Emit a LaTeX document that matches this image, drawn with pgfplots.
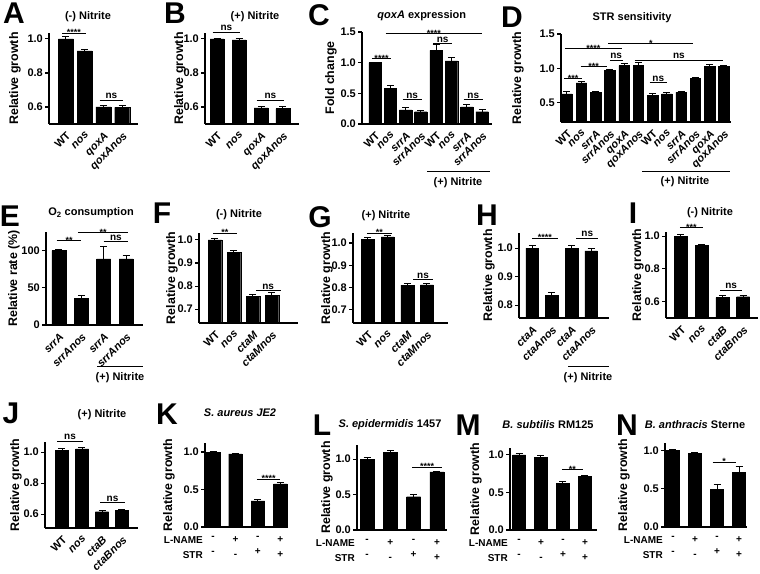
\documentclass[border=0pt]{standalone}
\usepackage{pgfplots}
\pgfplotsset{compat=1.18}
\usepackage{fontspec}
\setmainfont{Liberation Sans}
\pgfplotsset{
  /pgf/number format/assume math mode=true,
  panel/.style={
    scale only axis, anchor=south west, clip=false,
    axis x line*=bottom, axis y line*=left,
    axis line style={line width=1.3pt},
    ybar,
    xtick=data, xtick style={draw=none},
    ytick style={line width=1.1pt, black}, tick align=outside, major tick length=4pt,
    yticklabel style={font=\bfseries\fontsize{11}{11}\selectfont, /pgf/number format/fixed, /pgf/number format/fixed zerofill, /pgf/number format/precision=1, inner sep=2pt},
    xticklabel style={rotate=45, anchor=north east, font=\bfseries\itshape\fontsize{11}{11}\selectfont, inner sep=2.2pt},
    every axis y label/.style={rotate=90, anchor=center, font=\bfseries\fontsize{12.4}{13}\selectfont},
    every axis title/.style={anchor=center, font=\bfseries\fontsize{11}{12}\selectfont},
    ylabel={Relative growth},
  },
  ylab/.style={ylabel style={at={(axis description cs:#1,0.5)}}},
  tit/.style 2 args={title style={at={(axis description cs:#1,#2)}}},
  twoRow/.style={every x tick label/.style={anchor=north, align=center, font=\bfseries\fontsize{10}{15}\selectfont, inner sep=2pt, yshift=-3pt}, xticklabels={{-\\-},{+\\-},{-\\+},{+\\+}}},
  bars/.style={fill=black, draw=black, bar width=#1, error bars/.cd, y dir=plus, y explicit, error bar style={line width=1pt, black}, error mark options={rotate=90, mark size=3.5pt, line width=1pt, black}},
}
\newcommand{\sig}[4]{\draw[line width=0.9pt] (axis cs:#1,#3) -- (axis cs:#2,#3) node[midway,above,inner sep=0.8pt,font=\bfseries\fontsize{10}{10}\selectfont]{#4};}
\newcommand{\sigs}[4]{\draw[line width=0.9pt] (axis cs:#1,#3) -- (axis cs:#2,#3) node[midway,above,inner sep=0pt,yshift=-3.2pt,font=\bfseries\fontsize{9}{9}\selectfont]{#4};}
\newcommand{\plet}[3]{\node[font=\bfseries\fontsize{30}{30}\selectfont, inner sep=0pt] at (#1pt,#2pt) {#3};}
\newcommand{\rowlab}{\node[anchor=north east, align=right, font=\bfseries\fontsize{10}{15}\selectfont, inner sep=2pt, yshift=-7pt] at (rel axis cs:0,0) {L-NAME\\STR};}
\newcommand{\up}[1]{\textup{#1}}
\begin{document}
\begin{tikzpicture}[x=1pt,y=1pt]
\path[use as bounding box] (0pt,0pt) rectangle (760pt,573pt);
% ---------------- A
\begin{axis}[panel, at={(49pt,449pt)}, width=89pt, height=91pt,
  xmin=-0.9, xmax=3.84, ymin=0.5, ymax=1.035, ytick={0.6,0.8,1.0},
  xticklabels={\up{WT},nos,qoxA,qoxAnos}, ylab=-0.382,
  title={(-) Nitrite}, tit={0.438}{1.176}]
\addplot[bars=15pt] coordinates {(0,1.0) +- (0,0.012) (1,0.93) +- (0,0.008) (2,0.60) +- (0,0.007) (3,0.598) +- (0,0.01)};
\sigs{-0.2}{1.05}{1.035}{****}
\sig{1.8}{3.05}{0.64}{ns}
\end{axis}
% ---------------- B
\begin{axis}[panel, at={(205pt,449pt)}, width=94pt, height=91pt,
  xmin=-0.55, xmax=3.73, ymin=0.5, ymax=1.035, ytick={0.6,0.8,1.0},
  xticklabels={\up{WT},nos,qoxA,qoxAnos}, ylab=-0.266,
  title={(+) Nitrite}, tit={0.532}{1.176}]
\addplot[bars=14pt] coordinates {(0,1.0) +- (0,0.005) (1,0.995) +- (0,0.005) (2,0.595) +- (0,0.005) (3,0.59) +- (0,0.01)};
\sig{-0.2}{1.05}{1.04}{ns}
\sig{1.8}{3.05}{0.64}{ns}
\end{axis}
% ---------------- C
\begin{axis}[panel, at={(362pt,449pt)}, width=130pt, height=92pt,
  xmin=-0.85, xmax=7.65, ymin=0, ymax=1.5, ytick={0,0.5,1.0,1.5},
  xticklabels={\up{WT},nos,srrA,srrAnos,\up{WT},nos,srrA,srrAnos},
  ylabel={Fold change}, ylab=-0.238,
  title={\textit{qoxA} expression}, tit={0.46}{1.174}]
\addplot[bars=12.5pt] coordinates {(0,1.0) +- (0,0) (1,0.58) +- (0,0.05) (2,0.23) +- (0,0.04) (3,0.2) +- (0,0.015) (4,1.2) +- (0,0.1) (5,1.03) +- (0,0.05) (6,0.28) +- (0,0.04) (7,0.2) +- (0,0.03)};
\sigs{-0.2}{1.05}{1.07}{****}
\sig{1.8}{3.05}{0.40}{ns}
\sigs{0.7}{7.0}{1.47}{****}
\sig{3.8}{5.05}{1.31}{ns}
\sig{5.8}{7.05}{0.40}{ns}
\end{axis}
% ---------------- D
\begin{axis}[panel, at={(561pt,451pt)}, width=170pt, height=88pt,
  xmin=-0.42, xmax=11.5, ymin=0.22, ymax=1.5, ytick={0.5,1.0,1.5},
  xticklabels={\up{WT},nos,srrA,srrAnos,qoxA,qoxAnos,\up{WT},nos,srrA,srrAnos,qoxA,qoxAnos},
  ylab=-0.253,
  title={STR sensitivity}, tit={0.418}{1.18}]
\addplot[bars=10.5pt] coordinates {(0,0.63) +- (0,0.04) (1,0.79) +- (0,0.02) (2,0.65) +- (0,0.01) (3,0.97) +- (0,0.015) (4,1.04) +- (0,0.03) (5,1.04) +- (0,0.04) (6,0.61) +- (0,0.03) (7,0.63) +- (0,0.025) (8,0.65) +- (0,0.01) (9,0.85) +- (0,0.015) (10,1.03) +- (0,0.02) (11,1.03) +- (0,0.015)};
\sigs{-0.2}{1.05}{0.855}{***}
\sigs{0.95}{2.8}{1.03}{***}
\sigs{-0.15}{3.85}{1.29}{****}
\sigs{2.9}{8.85}{1.36}{*}
\sig{3.0}{3.9}{1.12}{ns}
\sig{4.75}{10.95}{1.12}{ns}
\sig{5.8}{7.0}{0.79}{ns}
\end{axis}
% ---------------- E
\begin{axis}[panel, at={(46pt,248pt)}, width=97pt, height=93pt,
  xmin=-0.58, xmax=3.76, ymin=0, ymax=125, ytick={0,50,100},
  yticklabel style={/pgf/number format/precision=0},
  xticklabels={srrA,srrAnos,srrA,srrAnos},
  ylabel={Relative rate (\%)}, ylab=-0.33,
  title={O\textsubscript{2} consumption}, tit={0.464}{1.204}]
\addplot[bars=14pt] coordinates {(0,100) +- (0,1.5) (1,36) +- (0,3) (2,89) +- (0,16) (3,89) +- (0,5)};
\sigs{-0.1}{1.0}{113}{**}
\sigs{0.85}{3.1}{124.5}{**}
\sig{2.0}{3.1}{112}{ns}
\end{axis}
% ---------------- F
\begin{axis}[panel, at={(199pt,250pt)}, width=99pt, height=90pt,
  xmin=-0.84, xmax=4.37, ymin=0.64, ymax=1.03, ytick={0.7,0.8,0.9,1.0},
  xticklabels={\up{WT},nos,ctaM,ctaMnos}, ylab=-0.273,
  title={(-) Nitrite}, tit={0.404}{1.2}]
\addplot[bars=13.5pt] coordinates {(0,1.0) +- (0,0.007) (1,0.947) +- (0,0.006) (2,0.755) +- (0,0.01) (3,0.76) +- (0,0.01)};
\sigs{-0.1}{1.15}{1.03}{**}
\sig{2.15}{3.45}{0.78}{ns}
\end{axis}
% ---------------- G
\begin{axis}[panel, at={(353pt,250pt)}, width=95pt, height=90pt,
  xmin=-0.76, xmax=4.07, ymin=0.64, ymax=1.045, ytick={0.7,0.8,0.9,1.0},
  xticklabels={\up{WT},nos,ctaM,ctaMnos}, ylab=-0.274,
  title={(+) Nitrite}, tit={0.347}{1.189}]
\addplot[bars=13pt] coordinates {(0,1.017) +- (0,0.008) (1,1.027) +- (0,0.007) (2,0.81) +- (0,0.008) (3,0.812) +- (0,0.004)};
\sigs{-0.05}{1.2}{1.045}{**}
\sig{2.3}{3.3}{0.835}{ns}
\end{axis}
% ---------------- H
\begin{axis}[panel, at={(519pt,255pt)}, width=90pt, height=85pt,
  xmin=-0.66, xmax=3.9, ymin=0.755, ymax=1.053, ytick={0.8,0.9,1.0},
  xticklabels={ctaA,ctaAnos,ctaA,ctaAnos}, ylab=-0.333]
\addplot[bars=12.5pt] coordinates {(0,1.0) +- (0,0.01) (1,0.835) +- (0,0.008) (2,0.998) +- (0,0.01) (3,0.99) +- (0,0.01)};
\sigs{0}{1.3}{1.035}{****}
\sig{2.25}{3.35}{1.035}{ns}
\end{axis}
% ---------------- I
\begin{axis}[panel, at={(666pt,255pt)}, width=92pt, height=86pt,
  xmin=-0.72, xmax=3.72, ymin=0.5, ymax=1.025, ytick={0.6,0.8,1.0},
  xticklabels={\up{WT},nos,ctaB,ctaBnos}, ylab=-0.304,
  title={(-) Nitrite}, tit={0.478}{1.22}]
\addplot[bars=13pt] coordinates {(0,1.0) +- (0,0.008) (1,0.945) +- (0,0.006) (2,0.625) +- (0,0.01) (3,0.63) +- (0,0.008)};
\sigs{-0.05}{1.05}{1.05}{***}
\sig{1.9}{2.95}{0.67}{ns}
\end{axis}
% ---------------- J
\begin{axis}[panel, at={(45pt,45pt)}, width=93pt, height=86pt,
  xmin=-0.85, xmax=3.8, ymin=0.51, ymax=1.065, ytick={0.6,0.8,1.0},
  xticklabels={\up{WT},nos,ctaB,ctaBnos}, ylab=-0.312,
  title={(+) Nitrite}, tit={0.613}{1.314}]
\addplot[bars=13pt] coordinates {(0,1.01) +- (0,0.01) (1,1.02) +- (0,0.01) (2,0.615) +- (0,0.006) (3,0.622) +- (0,0.005)};
\sig{-0.25}{1.05}{1.07}{ns}
\sig{1.9}{3.15}{0.675}{ns}
\end{axis}
% ---------------- K
\begin{axis}[panel, twoRow, at={(205pt,46pt)}, width=82pt, height=84pt,
  xmin=-0.36, xmax=3.3, ymin=0, ymax=1.12, ytick={0,0.5,1.0}, ylab=-0.439,
  title={\textit{S. aureus JE2}}, tit={0.427}{1.357}]
\addplot[bars=13.5pt] coordinates {(0,1.0) +- (0,0.005) (1,0.975) +- (0,0.005) (2,0.35) +- (0,0.02) (3,0.575) +- (0,0.02)};
\sigs{1.95}{3.0}{0.64}{****}
\rowlab
\end{axis}
% ---------------- L
\begin{axis}[panel, twoRow, at={(357pt,43pt)}, width=90pt, height=85pt,
  xmin=-0.43, xmax=3.43, ymin=0, ymax=1.2, ytick={0,0.5,1.0}, ylab=-0.333,
  title={\textit{S. epidermidis} 1457}, tit={0.367}{1.235}]
\addplot[bars=14pt] coordinates {(0,1.0) +- (0,0.02) (1,1.1) +- (0,0.025) (2,0.47) +- (0,0.035) (3,0.82) +- (0,0.01)};
\sigs{1.95}{3.2}{0.89}{****}
\rowlab
\end{axis}
% ---------------- M
\begin{axis}[panel, twoRow, at={(510pt,43pt)}, width=87pt, height=82pt,
  xmin=-0.41, xmax=3.55, ymin=0, ymax=1.09, ytick={0,0.5,1.0}, ylab=-0.391,
  title={\textit{B. subtilis} RM125}, tit={0.437}{1.28}]
\addplot[bars=13pt] coordinates {(0,1.0) +- (0,0.02) (1,0.97) +- (0,0.02) (2,0.62) +- (0,0.02) (3,0.71) +- (0,0.02)};
\sigs{1.95}{2.9}{0.8}{**}
\rowlab
\end{axis}
% ---------------- N
\begin{axis}[panel, twoRow, at={(665pt,46pt)}, width=82pt, height=84pt,
  xmin=-0.36, xmax=3.36, ymin=0, ymax=1.1, ytick={0,0.5,1.0}, ylab=-0.5,
  title={\textit{B. anthracis} Sterne}, tit={0.366}{1.214}]
\addplot[bars=13pt] coordinates {(0,1.0) +- (0,0.01) (1,0.96) +- (0,0.01) (2,0.49) +- (0,0.07) (3,0.72) +- (0,0.07)};
\sigs{1.8}{2.85}{0.85}{*}
\rowlab
\end{axis}
% ---------------- letters
\plet{14}{560}{A}
\plet{175}{560}{B}
\plet{319}{558}{C}
\plet{512}{556}{D}
\plet{10}{357}{E}
\plet{162}{360}{F}
\plet{320}{356}{G}
\plet{487}{358}{H}
\plet{633}{360}{I}
\plet{11}{160}{J}
\plet{167}{159}{K}
\plet{322}{148}{L}
\plet{468}{148}{M}
\plet{627}{148}{N}
% ---------------- (+) Nitrite brackets
\begin{scope}[line width=1pt]
\draw (427pt,401pt) -- (490pt,401pt);
\draw (642pt,401pt) -- (730pt,401pt);
\draw (97pt,206pt) -- (143pt,206pt);
\draw (568pt,206pt) -- (609pt,206pt);
\end{scope}
\begin{scope}[every node/.style={font=\bfseries\fontsize{11}{12}\selectfont, inner sep=0pt}]
\node at (458pt,390pt) {(+) Nitrite};
\node at (685pt,391pt) {(+) Nitrite};
\node at (120pt,195pt) {(+) Nitrite};
\node at (588pt,195pt) {(+) Nitrite};
\end{scope}
\end{tikzpicture}
\end{document}
